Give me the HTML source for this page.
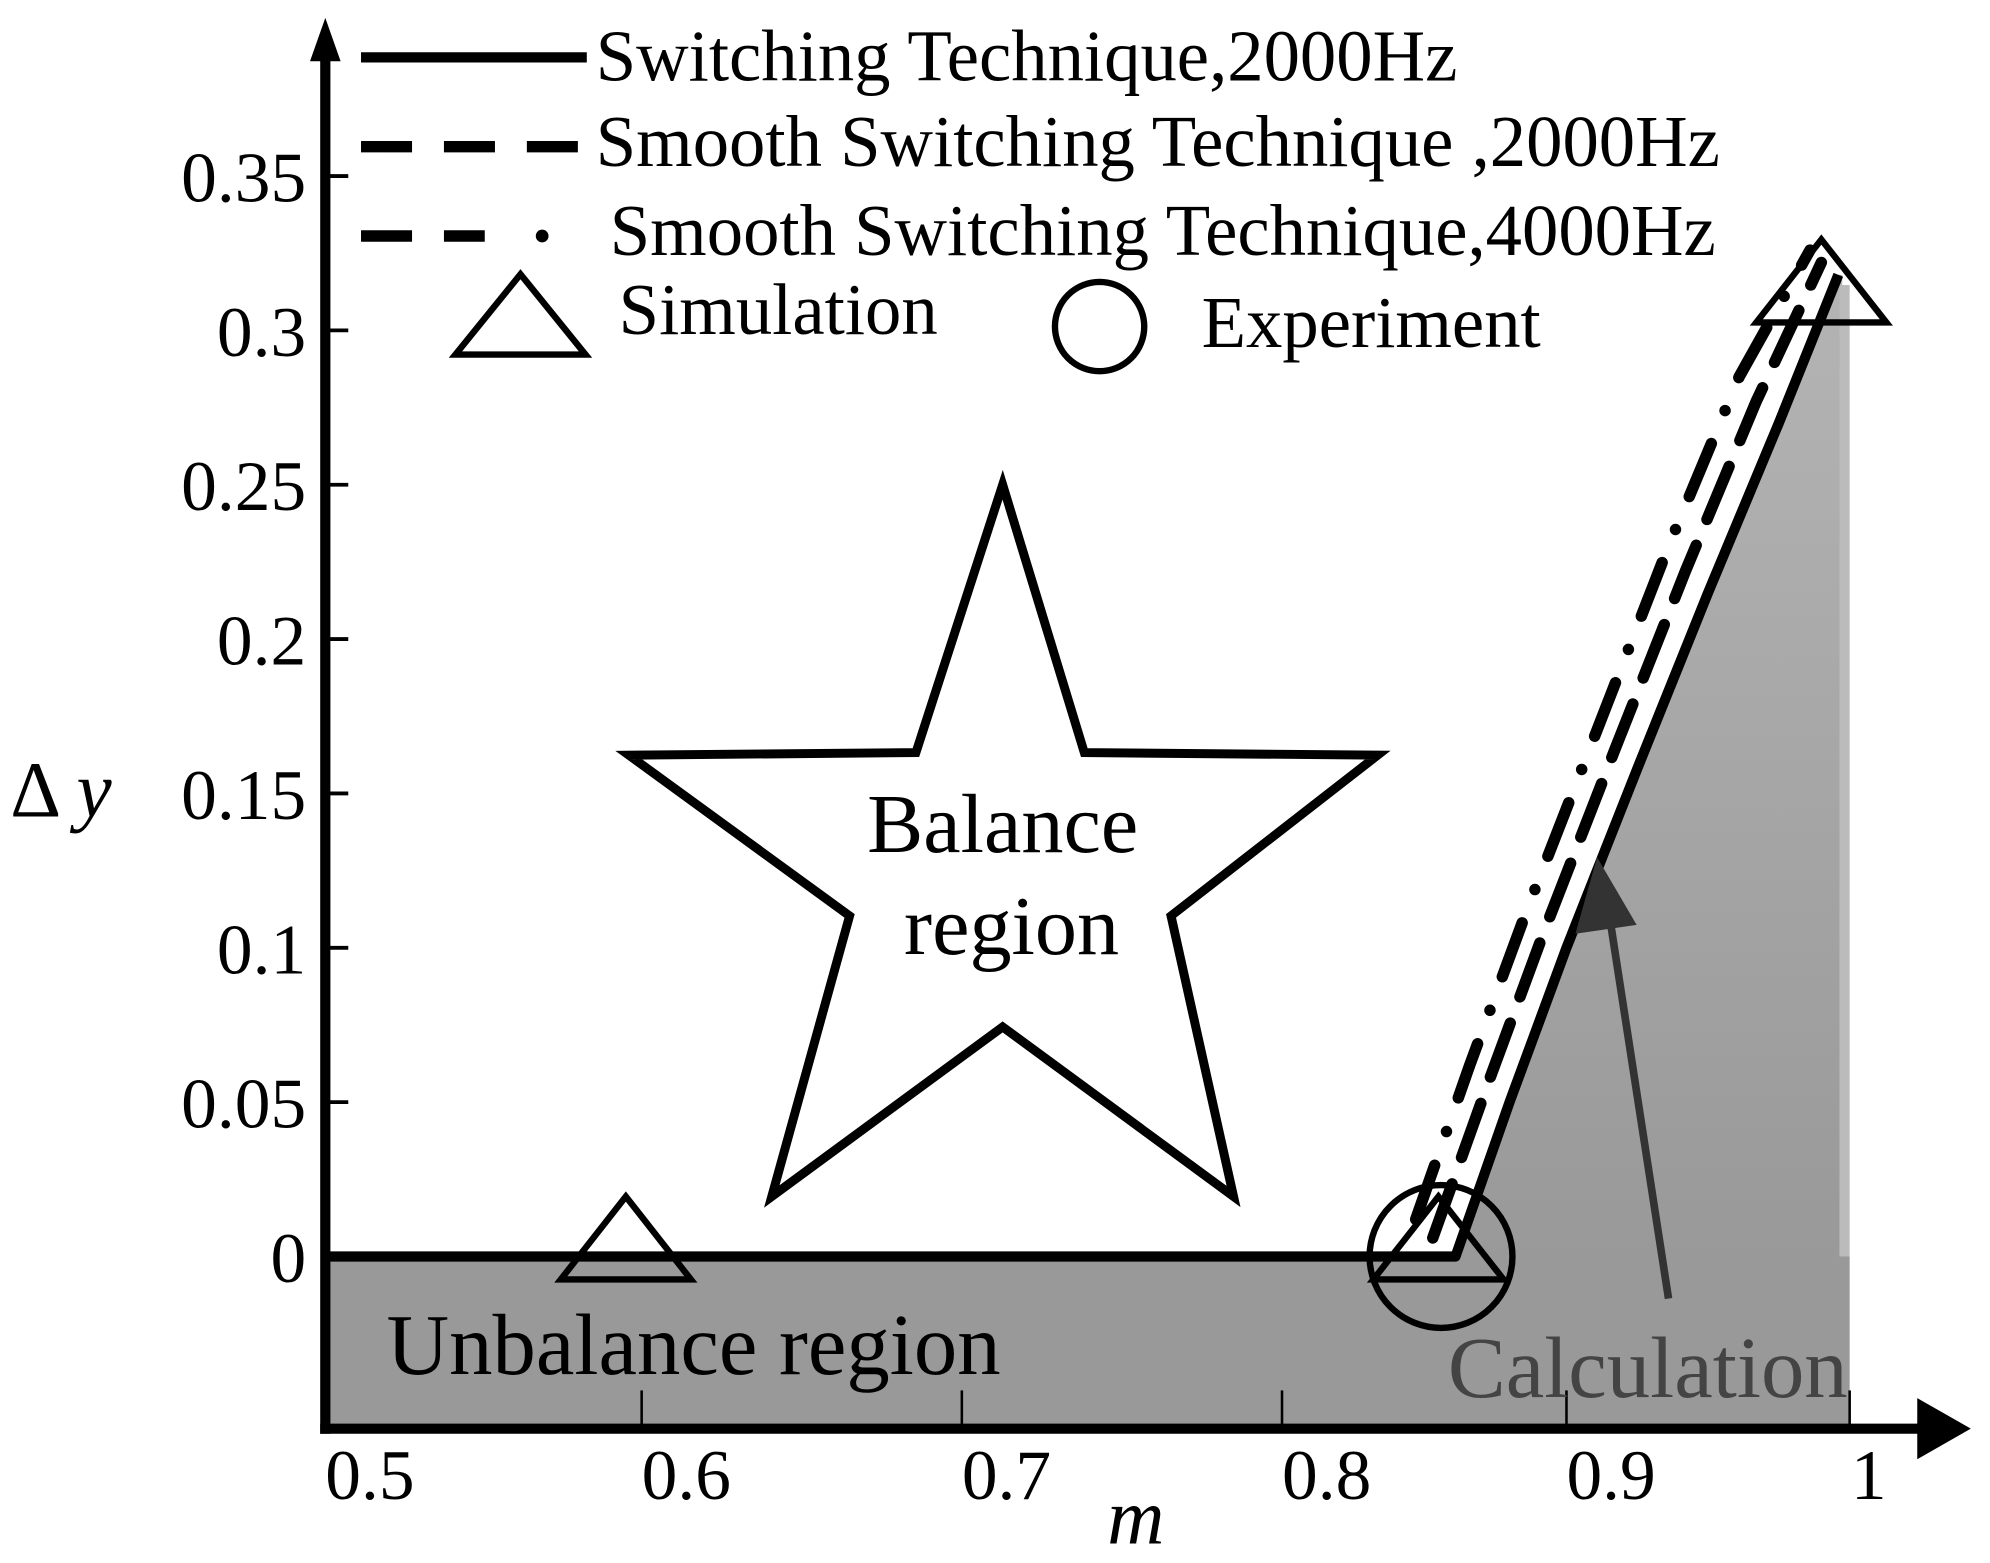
<!DOCTYPE html>
<html><head><meta charset="utf-8"><style>
html,body{margin:0;padding:0;background:#fff;}
svg{display:block;}
text{font-family:"Liberation Serif","Times New Roman",serif;}
</style></head><body>
<svg id="chart" width="1990" height="1563" viewBox="0 0 1560 1225.3" xmlns="http://www.w3.org/2000/svg">
<defs>
<linearGradient id="g1" x1="0" y1="0" x2="0" y2="1">
<stop offset="0" stop-color="#b4b4b4"/><stop offset="1" stop-color="#999"/>
</linearGradient>
</defs>
<g id="fills"></g>
<g id="series"></g>
<g id="axes"></g>
<g id="legend">
  <line x1="283" y1="45" x2="460" y2="45" stroke="#000" stroke-width="8"/>
  <text x="467" y="63" font-size="57">Switching Technique,2000Hz</text>
  <line x1="283" y1="115" x2="460" y2="115" stroke="#000" stroke-width="9" stroke-dasharray="40,25"/>
  <text x="467" y="130" font-size="57">Smooth Switching Technique ,2000Hz</text>
  <line x1="283" y1="185" x2="380" y2="185" stroke="#000" stroke-width="9" stroke-dasharray="40,25"/>
  <circle cx="425" cy="185" r="5"/>
  <text x="478" y="200" font-size="57">Smooth Switching Technique,4000Hz</text>
  <polygon points="408,215 357,278 459,278" fill="none" stroke="#000" stroke-width="5"/>
  <text x="485" y="262" font-size="57">Simulation</text>
  <circle cx="862" cy="256" r="35" fill="none" stroke="#000" stroke-width="5"/>
  <text x="942" y="272" font-size="57">Experiment</text>
</g>
<polygon points="786,380 850,590 1080,592 918,718 967,938 786,805 605,938 666,718 493,592 718,590" fill="#fff" stroke="#000" stroke-width="7" stroke-linejoin="miter"/>
<text x="786" y="668" font-size="66" text-anchor="middle">Balance</text>
<text x="793" y="748" font-size="66" text-anchor="middle">region</text>
<text x="303" y="1077" font-size="68">Unbalance region</text>
<text x="1135" y="1095" font-size="68" fill="#444">Calculation</text>
<line x1="1308" y1="1018" x2="1262" y2="720" stroke="#333" stroke-width="6"/>
<polygon points="1252,672 1235,732 1283,725" fill="#333"/>
<g id="markers"></g>
<text x="8" y="640" font-size="62">Δ <tspan font-style="italic">y</tspan></text>
<text x="868" y="1210" font-size="62" font-style="italic">m</text>
</svg>
<script>
const xBreaks = [0.5, 0.6, 0.7, 0.8, 0.9, 1.0];
const xTickLabels = ["0.5", "0.6", "0.7", "0.8", "0.9", "1"];
const yTicks = [0, 0.05, 0.1, 0.15, 0.2, 0.25, 0.3, 0.35];
const yTickLabels = ["0", "0.05", "0.1", "0.15", "0.2", "0.25", "0.3", "0.35"];
const solidM = [0.5, 0.861, 0.88, 0.9, 0.925, 0.95, 0.975, 0.996];
const solidDy = [0, 0, 0.05, 0.1, 0.158, 0.215, 0.27, 0.318];
const smooth2000M = [0.853, 0.872, 0.892, 0.917, 0.942, 0.967, 0.99];
const smooth2000Dy = [0.006, 0.055, 0.105, 0.164, 0.222, 0.277, 0.322];
const smooth4000M = [0.847, 0.866, 0.886, 0.911, 0.936, 0.961, 0.986];
const smooth4000Dy = [0.012, 0.062, 0.112, 0.171, 0.23, 0.285, 0.326];
const simM = [0.595, 0.855, 0.99];
const simDy = [0, 0, 0.31];
const expM = [0.855];
const expDy = [0];

const xPix = [255, 503, 754, 1005, 1228, 1450];
function X(m){
  for(let i=0;i<xBreaks.length-1;i++){
    if(m<=xBreaks[i+1]||i===xBreaks.length-2){
      const t=(m-xBreaks[i])/(xBreaks[i+1]-xBreaks[i]);
      return xPix[i]+t*(xPix[i+1]-xPix[i]);
    }
  }
}
function Y(v){ return 985 - v*2420; }
const NS="http://www.w3.org/2000/svg";
function mk(tag, attrs, parent){
  const el=document.createElementNS(NS,tag);
  for(const k in attrs) el.setAttribute(k,attrs[k]);
  document.getElementById(parent).appendChild(el);
  return el;
}
let e=mk('rect',{x:255,y:Y(0),width:X(1)-255,height:1120-Y(0),fill:'#999'},'fills');


let pts=[];
for(let i=1;i<solidM.length;i++) pts.push(X(solidM[i])+','+Y(solidDy[i]));
pts.push((X(solidM[solidM.length-1])+3)+','+Y(solidDy[solidDy.length-1]));
pts.push((X(1)-2)+','+Y(0));
e=mk('polygon',{points:pts.join(' '),fill:'url(#g1)'},'fills');


e=mk('rect',{x:X(1)-8,y:Y(solidDy[solidDy.length-1])+8,width:8,height:Y(0)-Y(solidDy[solidDy.length-1])-8,fill:'#bbb'},'fills');


function path(ms,ds){return ms.map((m,i)=>(i?'L':'M')+X(m)+' '+Y(ds[i])).join(' ');}
e=mk('path',{d:path(smooth4000M,smooth4000Dy),fill:'none',stroke:'#000','stroke-width':9,'stroke-dasharray':'45,28,0,28','stroke-linecap':'round'},'series');


e=mk('path',{d:path(smooth2000M,smooth2000Dy),fill:'none',stroke:'#000','stroke-width':9,'stroke-dasharray':'45,22','stroke-linecap':'round'},'series');


e=mk('path',{d:path(solidM,solidDy),fill:'none',stroke:'#000','stroke-width':8,'stroke-linejoin':'round'},'series');


for(let i=0;i<simM.length;i++){
  const cx=X(simM[i]), cy=Y(simDy[i]);
  e=mk('polygon',{points:cx+','+(cy-47)+' '+(cx-51)+','+(cy+18)+' '+(cx+51)+','+(cy+18),fill:'none',stroke:'#000','stroke-width':5},'markers');
  
  
}
for(let i=0;i<expM.length;i++){
  e=mk('circle',{cx:X(expM[i])+2,cy:Y(expDy[i]),r:56,fill:'none',stroke:'#000','stroke-width':5},'markers');
  
  
}
e=mk('line',{x1:255,y1:40,x2:255,y2:1124,stroke:'#000','stroke-width':8},'axes');


e=mk('polygon',{points:'243,48 255,14 267,48'},'axes');


e=mk('line',{x1:251,y1:1120,x2:1510,y2:1120,stroke:'#000','stroke-width':8},'axes');


e=mk('polygon',{points:'1503,1096 1545,1120 1503,1144'},'axes');


for(let i=0;i<yTicks.length;i++){
  const y=Y(yTicks[i]);
  e=mk('line',{x1:255,y1:y,x2:273,y2:y,stroke:'#000','stroke-width':3},'axes');
  
  
  e=mk('text',{x:240,y:y+20,'font-size':56,'text-anchor':'end'},'axes');
  e.textContent=yTickLabels[i];
  
  
}
for(let i=0;i<xBreaks.length;i++){
  const x=X(xBreaks[i]);
  if(i>0){
    e=mk('line',{x1:x,y1:1090,x2:x,y2:1120,stroke:'#000','stroke-width':2},'axes');
    
    
  }
  e=mk('text',{x:x+(i===5?15:35),y:1175,'font-size':56,'text-anchor':'middle'},'axes');
  e.textContent=xTickLabels[i];
  
  
}
</script>
</body></html>
